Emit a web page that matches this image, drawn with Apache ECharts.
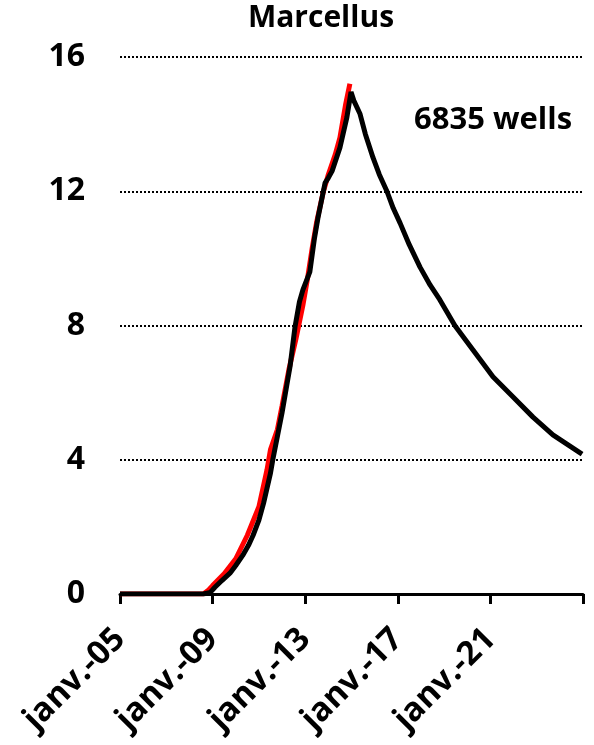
<!DOCTYPE html>
<html>
<head>
<meta charset="utf-8">
<script src="https://cdn.jsdelivr.net/npm/echarts@6/dist/echarts.min.js"></script>
<style>
html,body{margin:0;padding:0;background:#fff;}
#chart{width:594px;height:745px;}
</style>
</head>
<body>
<div id="chart"></div>
<script>
// Decimal years and values
var actualYears = [2005.0, 2008.6, 2008.8, 2009.0, 2009.5, 2010.0, 2010.5, 2011.0, 2011.35, 2011.5, 2011.8, 2012.0, 2012.3, 2012.6, 2012.9, 2013.1, 2013.3, 2013.5, 2013.77, 2014.0, 2014.3, 2014.5, 2014.75, 2014.93];
var actualValues = [0, 0, 0.1, 0.25, 0.6, 1.05, 1.75, 2.6, 3.7, 4.3, 4.9, 5.6, 6.7, 7.6, 8.6, 9.4, 10.3, 11.1, 11.95, 12.5, 13.1, 13.6, 14.6, 15.2];

var modelYears = [2005.0, 2008.6, 2008.9, 2009.1, 2009.4, 2009.75, 2010.0, 2010.3, 2010.55, 2010.75, 2011.0, 2011.2, 2011.5, 2011.6, 2011.8, 2012.0, 2012.2, 2012.35, 2012.56, 2012.75, 2012.9, 2013.2, 2013.4, 2013.55, 2013.86, 2014.0, 2014.16, 2014.5, 2014.8, 2014.98, 2015.1, 2015.37, 2015.6, 2015.93, 2016.2, 2016.53, 2016.8, 2017.1, 2017.5, 2017.96, 2018.4, 2018.82, 2019.47, 2020.25, 2021.11, 2021.98, 2022.84, 2023.7, 2024.96];
var modelValues = [0, 0, 0.05, 0.2, 0.4, 0.62, 0.85, 1.15, 1.45, 1.75, 2.2, 2.7, 3.6, 4.0, 4.7, 5.4, 6.2, 6.8, 7.96, 8.7, 9.06, 9.6, 10.6, 11.2, 12.25, 12.4, 12.6, 13.3, 14.2, 14.96, 14.7, 14.3, 13.7, 13.0, 12.5, 12.0, 11.5, 11.05, 10.4, 9.74, 9.2, 8.76, 7.99, 7.27, 6.47, 5.87, 5.27, 4.74, 4.17];

var yTicks = [0, 4, 8, 12, 16];
var xTickYears = [2005, 2009, 2013, 2017, 2021, 2025];
var xTickLabels = ['janv.-05', 'janv.-09', 'janv.-13', 'janv.-17', 'janv.-21', ''];
var titleText = 'Marcellus';
var noteText = '6835 wells';

function zip(a, b) { return a.map(function (v, i) { return [v, b[i]]; }); }

var FONT = 'Open Sans';
var chart = echarts.init(document.getElementById('chart'));
chart.setOption({
  animation: false,
  backgroundColor: '#fff',
  title: [
    { text: titleText, left: 316, top: -2, textAlign: 'center',
      textStyle: { fontFamily: FONT, fontWeight: 'bold', fontSize: 30, color: '#000' } },
    { text: noteText, left: 409, top: 100,
      textStyle: { fontFamily: FONT, fontWeight: 'bold', fontSize: 31, color: '#000' } }
  ],
  grid: { left: 120, right: 11, top: 57, bottom: 151, containLabel: false },
  xAxis: {
    type: 'value', min: 2005, max: 2025, interval: 4,
    axisLine: { show: true, lineStyle: { color: '#000', width: 3 } },
    axisTick: { show: true, length: 10, lineStyle: { color: '#000', width: 3 } },
    splitLine: { show: false },
    axisLabel: {
      rotate: 45, margin: 40,
      fontFamily: FONT, fontWeight: 'bold', fontSize: 33, color: '#000',
      formatter: function (v) {
        var i = xTickYears.indexOf(Math.round(v));
        return i >= 0 ? xTickLabels[i] : '';
      }
    }
  },
  yAxis: {
    type: 'value', min: yTicks[0], max: yTicks[yTicks.length - 1], interval: 4,
    axisLine: { show: false },
    axisTick: { show: false },
    splitLine: { show: true, lineStyle: { color: '#000', width: 2, type: [2, 2] } },
    axisLabel: { margin: 35, fontFamily: FONT, fontWeight: 'bold', fontSize: 32, color: '#000' }
  },
  series: [
    { type: 'line', data: zip(actualYears, actualValues), showSymbol: false, smooth: false,
      lineStyle: { color: '#ff0000', width: 5 }, z: 2 },
    { type: 'line', data: zip(modelYears, modelValues), showSymbol: false, smooth: false,
      lineStyle: { color: '#000', width: 5 }, z: 3 }
  ]
});
</script>
</body>
</html>
